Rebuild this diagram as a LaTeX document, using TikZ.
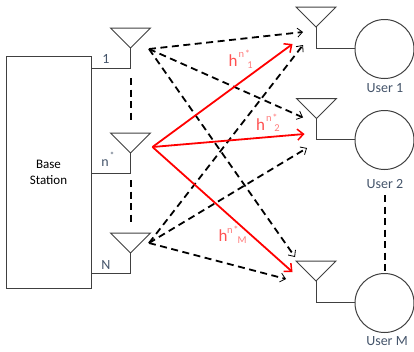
\documentclass[tikz,border=0pt]{standalone}
\usepackage{fontspec}
\setmainfont{Carlito}
\usetikzlibrary{arrows.meta}
\definecolor{lbl}{HTML}{44546A}
\definecolor{gline}{HTML}{404040}
\definecolor{pinkh}{HTML}{FF5050}
\tikzset{
  x=1pt,y=-1pt,
  wire/.style={draw=gline,line width=1pt},
  ant/.style={wire,line join=miter},
  usr/.style={circle,wire,minimum size=59pt,inner sep=0pt},
  bs/.style={rectangle,wire,minimum width=85pt,minimum height=232pt,inner sep=0pt,align=center,font=\fontsize{13}{15}\selectfont},
  dots/.style={draw=black,line width=1.8pt,dash pattern=on 7pt off 4.5pt},
  farrow/.style={dots,-{Straight Barb[length=5pt,width=9pt,line width=0.8pt]}},
  rarrow/.style={draw=red,line width=1.8pt,-{Straight Barb[length=6pt,width=11pt,line width=1.5pt]}},
  txt/.style={font=\fontsize{14}{16}\selectfont,text=lbl,inner sep=0pt},
  hh/.style={font=\fontsize{17}{17}\selectfont,text=pinkh,inner sep=0pt},
  ss/.style={font=\fontsize{10.5}{11}\selectfont,text=pinkh!75!white,inner sep=0pt},
}
\begin{document}
\begin{tikzpicture}
\useasboundingbox (0,0) rectangle (414,351);
\node[bs] (base) at (48.5,172) {Base\\[1pt]Station};
\node[usr] (u1) at (384.5,49) {};
\node[usr] (u2) at (384.5,140) {};
\node[usr] (um) at (384.5,303) {};
% base antennas
\coordinate (a1) at (130.5,48);
\coordinate (as) at (130.5,153);
\coordinate (an) at (130.5,253);
\coordinate (a1c) at (130.5,68);
\coordinate (asc) at (130.5,173);
\coordinate (anc) at (130.5,273);
\coordinate (a1b) at (91,68);
\coordinate (asb) at (91,173);
\coordinate (anb) at (91,273);
\draw[ant] (a1) -- (110.5,28) -- (150.5,28) -- cycle;
\draw[ant] (as) -- (110.5,133) -- (150.5,133) -- cycle;
\draw[ant] (an) -- (110.5,233) -- (150.5,233) -- cycle;
\draw[wire] (a1) -- (a1c) -- (a1b);
\draw[wire] (as) -- (asc) -- (asb);
\draw[wire] (an) -- (anc) -- (anb);
% user antennas
\coordinate (b1) at (316,27);
\coordinate (b2) at (316.5,118.5);
\coordinate (bm) at (316,281);
\coordinate (b1c) at (316,48);
\coordinate (b2c) at (316.5,139);
\coordinate (bmc) at (316,302);
\draw[ant] (b1) -- (296,7) -- (336,7) -- cycle;
\draw[ant] (b2) -- (296.5,98.5) -- (336.5,98.5) -- cycle;
\draw[ant] (bm) -- (296,261) -- (336,261) -- cycle;
\draw[wire] (b1) -- (b1c) -- (u1.west |- b1c);
\draw[wire] (b2) -- (b2c) -- (u2.west |- b2c);
\draw[wire] (bm) -- (bmc) -- (um.west |- bmc);
% vertical dashed
\coordinate (d1) at (131,78);
\coordinate (d2) at (131,122);
\coordinate (d3) at (131,180);
\coordinate (d4) at (131,225);
\coordinate (d5) at (385,195);
\draw[dots] (d1) -- (d2);
\draw[dots] (d3) -- (d4);
\draw[dots] (d5) -- (d5 |- um.north);
% arrow sources and targets
\coordinate (s1) at (149,49);
\coordinate (sn) at (149,243);
\coordinate (sr) at (152.5,147);
\coordinate (t11) at (303,32);
\coordinate (t12) at (303,117.5);
\coordinate (t1m) at (295,257);
\coordinate (tn1) at (303,45);
\coordinate (tn2) at (307,148);
\coordinate (tnm) at (286,279);
\coordinate (r1) at (292.5,44);
\coordinate (r2) at (304.5,134);
\coordinate (rm) at (292.5,272);
\draw[farrow] (s1) -- (t11);
\draw[farrow] (s1) -- (t12);
\draw[farrow] (s1) -- (t1m);
\draw[farrow] (sn) -- (tn1);
\draw[farrow] (sn) -- (tn2);
\draw[farrow] (sn) -- (tnm);
\draw[rarrow] (sr) -- (r1);
\draw[rarrow] (sr) -- (r2);
\draw[rarrow] (sr) -- (rm);
% labels
\node[txt] (l1) at (106,59) {1};
\node[txt] (ls) at (105,163) {n};
\node[txt,font=\fontsize{9}{9}\selectfont] (lss) at (112,155) {*};
\node[txt] (ln) at (106,265) {N};
\node[txt] (lu1) at (385,88) {User 1};
\node[txt] (lu2) at (385,184) {User 2};
\node[txt] (lum) at (387,341) {User M};
\node[hh] (h1) at (233,61) {h};
\node[ss] (n1) at (241.5,55) {n};
\node[ss] (st1) at (247.5,54) {*};
\node[ss] (i1) at (250,65) {1};
\node[hh] (h2) at (260.5,125) {h};
\node[ss] (n2) at (269,119) {n};
\node[ss] (st2) at (275,118) {*};
\node[ss] (i2) at (277,128.5) {2};
\node[hh] (hm) at (223,236) {h};
\node[ss] (nm) at (230,231) {n};
\node[ss] (stm) at (236,230) {*};
\node[ss] (im) at (242,240.5) {M};
\end{tikzpicture}
\end{document}
